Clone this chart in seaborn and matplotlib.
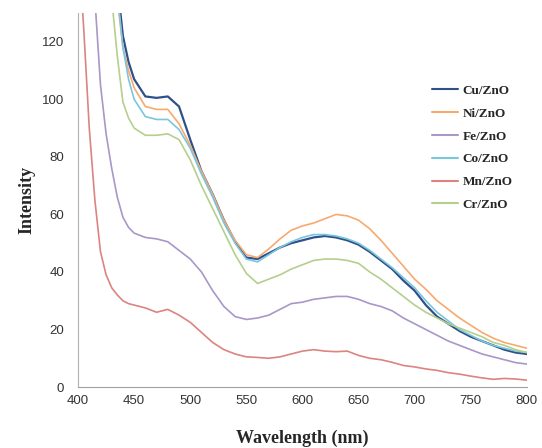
import numpy as np
import pandas as pd
import matplotlib
matplotlib.use("Agg")
import matplotlib.pyplot as plt
import seaborn as sns

wavelength = [400, 405, 410, 415, 420, 425, 430, 435, 440, 445, 450, 460, 470, 480, 490,
              500, 510, 520, 530, 540, 550, 560, 570, 580, 590, 600, 610, 620, 630, 640,
              650, 660, 670, 680, 690, 700, 710, 720, 730, 740, 750, 760, 770, 780, 790, 800]

cu = [400, 380, 350, 310, 260, 210, 170, 140, 122, 113, 107, 101, 100.5, 101, 97.5,
      86, 75, 67, 58, 50.5, 45, 44.5, 46.5, 48.5, 50, 51, 52, 52.5, 52, 51,
      49.5, 47, 44, 41, 37, 33.5, 28.5, 24.5, 22, 19.5, 17.5, 16, 14.5, 13, 12, 11.5]
ni = [400, 380, 350, 310, 260, 210, 165, 135, 118, 110, 104, 97.5, 96.5, 96.5, 91.5,
      84, 75, 67, 58, 51, 46, 45, 48, 51.5, 54.5, 56, 57, 58.5, 60, 59.5,
      58, 55, 51, 46.5, 42, 37.5, 34, 30, 27, 24, 21.5, 19, 17, 15.5, 14.5, 13.5]
fe = [300, 250, 190, 135, 105, 88, 76, 66, 59, 55.5, 53.5, 52, 51.5, 50.5, 47.5,
      44.5, 40, 33.5, 28, 24.5, 23.5, 24, 25, 27, 29, 29.5, 30.5, 31, 31.5, 31.5,
      30.5, 29, 28, 26.5, 24, 22, 20, 18, 16, 14.5, 13, 11.5, 10.5, 9.5, 8.5, 8]
co = [400, 380, 350, 310, 260, 210, 168, 137, 118, 107, 100, 94, 93, 93, 89.5,
      83, 74, 66, 57, 50, 44.5, 43.5, 46, 48.5, 50.5, 52, 53, 53, 52.5, 51.5,
      50, 47.5, 44.5, 41.5, 38, 34.5, 30, 26, 23, 20, 18, 16, 14.5, 13.5, 12.5, 12]
mn = [155, 125, 90, 65, 47, 39, 34.5, 32, 30, 29, 28.5, 27.5, 26, 27, 25,
      22.5, 19, 15.5, 13, 11.5, 10.5, 10.3, 10, 10.5, 11.5, 12.5, 13, 12.5, 12.3, 12.5,
      11, 10, 9.5, 8.6, 7.5, 7, 6.3, 5.8, 5, 4.5, 3.8, 3.2, 2.7, 3, 2.8, 2.4]
cr = [400, 370, 330, 280, 220, 170, 135, 115, 99, 93.5, 90, 87.5, 87.5, 88, 86,
      79, 70, 62, 54, 46, 39.5, 36, 37.5, 39, 41, 42.5, 44, 44.5, 44.5, 44,
      43, 40, 37.5, 34.5, 31.5, 28.5, 26, 24, 22, 20.5, 19, 17.5, 15.5, 14.5, 13, 12]

labels = ["Cu/ZnO", "Ni/ZnO", "Fe/ZnO", "Co/ZnO", "Mn/ZnO", "Cr/ZnO"]
colors = ["#2E5189", "#F8A96E", "#A897C8", "#7CC6DC", "#DB8480", "#B5CF8C"]
series = [cu, ni, fe, co, mn, cr]

frames = []
for lab, vals in zip(labels, series):
    frames.append(pd.DataFrame({"Wavelength": wavelength, "Intensity": vals, "Sample": lab}))
df = pd.concat(frames, ignore_index=True)

sns.set_style("white")
fig = plt.figure(figsize=(5.42, 4.48), dpi=100)
ax = fig.add_axes([0.144, 0.136, 0.828, 0.835])

sns.lineplot(data=df, x="Wavelength", y="Intensity", hue="Sample",
             hue_order=labels, palette=dict(zip(labels, colors)),
             linewidth=1.2, ax=ax, sort=False)
for line, lab in zip(ax.get_lines(), labels):
    if lab == "Cu/ZnO":
        line.set_linewidth(1.6)

ax.set_xlim(400, 800)
ax.set_ylim(0, 130)
ax.set_xticks(range(400, 801, 50))
ax.set_yticks(range(0, 121, 20))
ax.tick_params(axis="both", length=0, labelsize=9.5, labelcolor="#333333")
ax.tick_params(axis="y", pad=10)
ax.tick_params(axis="x", pad=6)
for t in ax.get_xticklabels() + ax.get_yticklabels():
    t.set_family("Liberation Sans")
for s in ["top", "right"]:
    ax.spines[s].set_visible(False)
ax.spines["left"].set_color("#B0B0B0")
ax.spines["bottom"].set_color("#A0A0A0")

ax.set_xlabel("Wavelength (nm)", family="Liberation Serif", fontweight="bold",
              fontsize=13, labelpad=16)
ax.set_ylabel("Intensity", family="Liberation Serif", fontweight="bold",
              fontsize=13, labelpad=5)

leg = ax.legend(loc="upper left", bbox_to_anchor=(0.762, 0.84), frameon=False,
                prop={"family": "Liberation Serif", "weight": "bold", "size": 9.5},
                handlelength=2.0, handletextpad=0.3, labelspacing=0.8)
for h in leg.get_lines():
    h.set_linewidth(1.5)

fig.savefig("out.png", dpi=100)
